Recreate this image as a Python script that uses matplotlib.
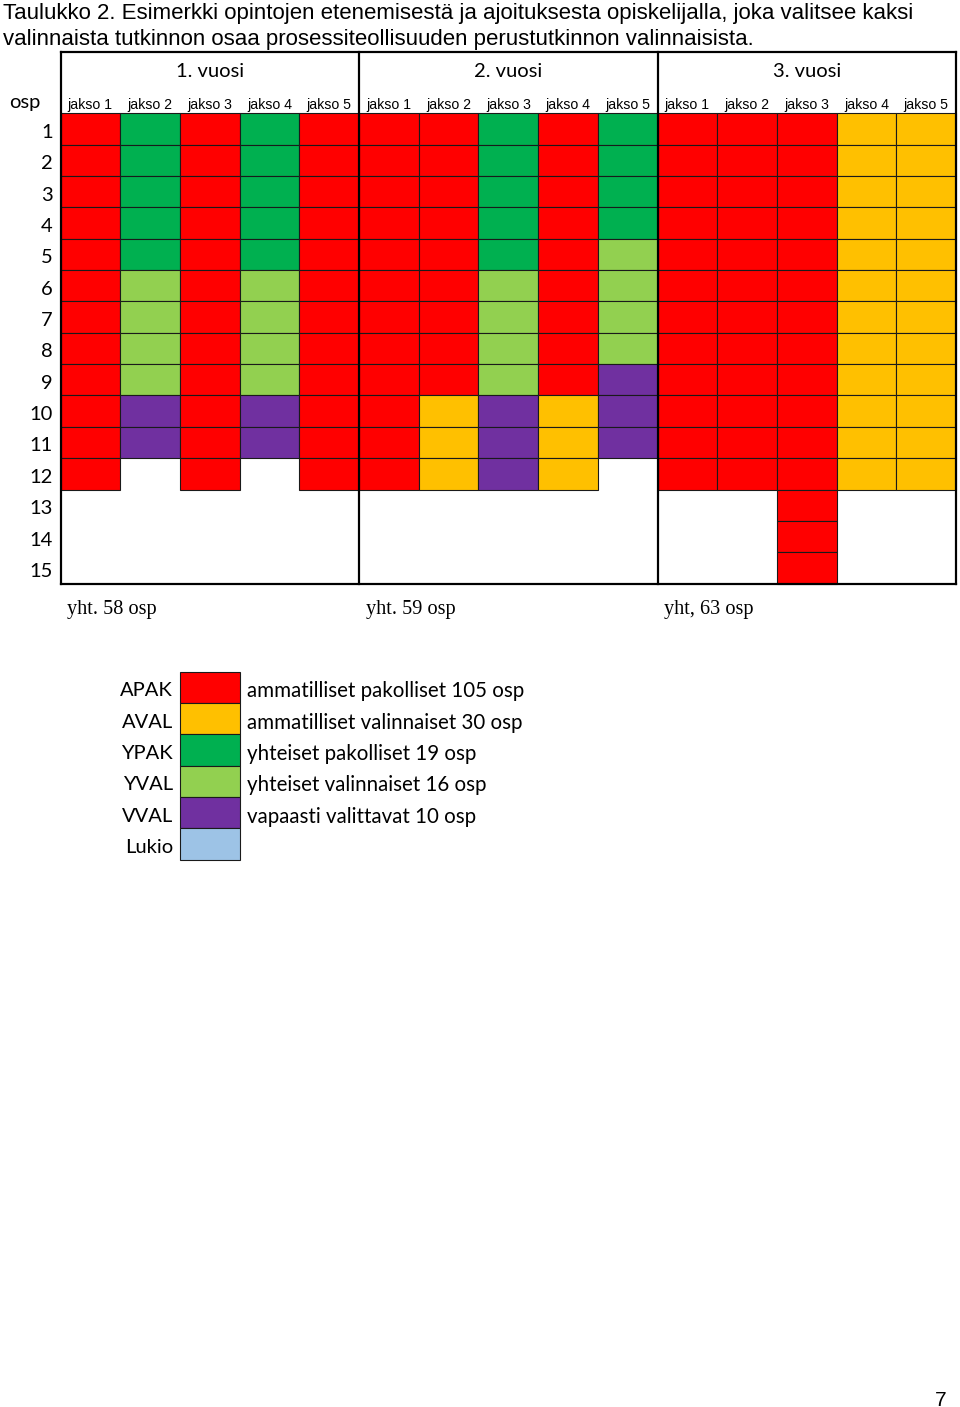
import matplotlib.pyplot as plt
from matplotlib.patches import Rectangle

# category codes, colours and legend texts
codes = ['APAK', 'AVAL', 'YPAK', 'YVAL', 'VVAL', 'Lukio']
colors = ['#FF0000', '#FFC000', '#00B050', '#92D050', '#7030A0', '#9DC3E6']
descriptions = ['ammatilliset pakolliset 105 osp', 'ammatilliset valinnaiset 30 osp',
                'yhteiset pakolliset 19 osp', 'yhteiset valinnaiset 16 osp',
                'vapaasti valittavat 10 osp', '']

years = ['1. vuosi', '2. vuosi', '3. vuosi']
periods = ['jakso 1', 'jakso 2', 'jakso 3', 'jakso 4', 'jakso 5']
totals = ['yht. 58 osp', 'yht. 59 osp', 'yht, 63 osp']
osp_rows = list(range(1, 16))

# stacked blocks (code, osp) for each period, top to bottom
vuosi_1 = [[('APAK', 12)],
           [('YPAK', 5), ('YVAL', 4), ('VVAL', 2)],
           [('APAK', 12)],
           [('YPAK', 5), ('YVAL', 4), ('VVAL', 2)],
           [('APAK', 12)]]
vuosi_2 = [[('APAK', 12)],
           [('APAK', 9), ('AVAL', 3)],
           [('YPAK', 5), ('YVAL', 4), ('VVAL', 3)],
           [('APAK', 9), ('AVAL', 3)],
           [('YPAK', 4), ('YVAL', 4), ('VVAL', 3)]]
vuosi_3 = [[('APAK', 12)],
           [('APAK', 12)],
           [('APAK', 15)],
           [('AVAL', 12)],
           [('AVAL', 12)]]

title_lines = ["Taulukko 2. Esimerkki opintojen etenemisestä ja ajoituksesta opiskelijalla, joka valitsee kaksi",
               "valinnaista tutkinnon osaa prosessiteollisuuden perustutkinnon valinnaisista."]

# layout in pixels
x0, cw = 60.5, 59.7
y_top, y_grid, rh = 51.5, 113.3, 31.35
px = 0.72  # one pixel in points

fig = plt.figure(figsize=(9.6, 14.07), dpi=100)
ax = fig.add_axes([0, 0, 1, 1])
ax.set_xlim(0, 960)
ax.set_ylim(1407, 0)
ax.axis('off')

for i, line in enumerate(title_lines):
    ax.text(3, 11 + i * 25.5, line, fontsize=16, family='Liberation Sans',
            va='center_baseline', ha='left', color='black')

color_of = dict(zip(codes, colors))
columns = vuosi_1 + vuosi_2 + vuosi_3
for c, blocks in enumerate(columns):
    row = 0
    for code, n in blocks:
        for k in range(n):
            ax.add_patch(Rectangle((x0 + c * cw, y_grid + (row + k) * rh), cw, rh,
                                   facecolor=color_of[code], edgecolor='#1a1a1a',
                                   lw=1.1 * px, zorder=2))
        row += n

y_bot = y_grid + len(osp_rows) * rh
x_end = x0 + len(columns) * cw
lw_b = 2.2 * px
ax.plot([x0, x_end], [y_top, y_top], color='black', lw=lw_b, zorder=3)
ax.plot([x0, x_end], [y_bot, y_bot], color='black', lw=lw_b, zorder=3)
for i in range(len(years) + 1):
    xb = x0 + i * len(periods) * cw
    ax.plot([xb, xb], [y_top, y_bot], color='black', lw=lw_b, zorder=3)

for i, y in enumerate(years):
    xc = x0 + (i + 0.5) * len(periods) * cw
    ax.text(xc, 70, y, fontsize=14.5, family='Lato', ha='center', va='center_baseline')
    ax.text(x0 + i * len(periods) * cw + 6.5, 607, totals[i], fontsize=14.6,
            family='Liberation Serif', ha='left', va='center_baseline')
for c in range(len(columns)):
    ax.text(x0 + (c + 0.5) * cw, 104, periods[c % len(periods)], fontsize=10.2,
            family='Liberation Sans', ha='center', va='center_baseline')

ax.text(25, 101, 'osp', fontsize=14.5, family='Lato', ha='center', va='center_baseline')
for j, r in enumerate(osp_rows):
    ax.text(53, y_grid + (j + 0.5) * rh + 2, str(r), fontsize=14.5, family='Lato',
            ha='right', va='center_baseline')

# legend
lx, ly = 180, 671.7
for i, code in enumerate(codes):
    ax.add_patch(Rectangle((lx, ly + i * rh), cw, rh, facecolor=colors[i],
                           edgecolor='#1a1a1a', lw=1.1 * px, zorder=2))
    ax.text(lx - 7, ly + (i + 0.5) * rh + 2, code, fontsize=14.5, family='Lato',
            ha='right', va='center_baseline')
    ax.text(lx + cw + 7, ly + (i + 0.5) * rh + 2, descriptions[i], fontsize=14.8,
            family='Lato', ha='left', va='center_baseline')

ax.text(941, 1398, '7', fontsize=15, family='Liberation Sans', ha='center', va='center_baseline')

fig.savefig('out.png', dpi=100)
